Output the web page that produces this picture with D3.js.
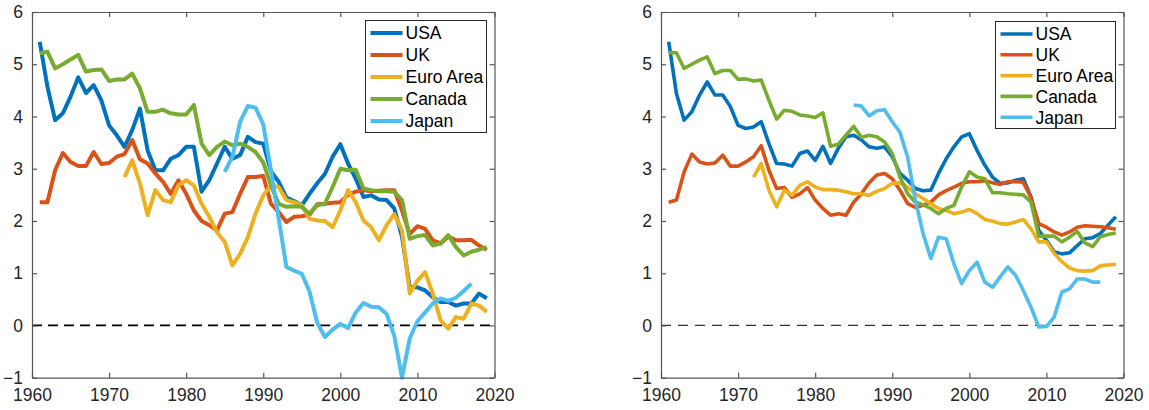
<!DOCTYPE html>
<meta charset="utf-8">
<style>
body { margin: 0; background: #fff; }
svg { font-family: "Liberation Sans", Arial, Helvetica, sans-serif; }
.axis text { font-size: 17.5px; fill: #262626; }
.axis path, .axis line { stroke: #555; stroke-width: 1.2; }
.legend text { font-size: 17.5px; fill: #000; }
</style>
<svg width="1149" height="410"></svg>
<script src="https://d3js.org/d3.v7.min.js"></script>
<script>
var names = ["USA", "UK", "Euro Area", "Canada", "Japan"];
var colors = ["#0072BD", "#D95319", "#EDB120", "#77AC30", "#4DBEEE"];
var startYears = [1961, 1961, 1972, 1961, 1985];
var xTicks = [1960, 1970, 1980, 1990, 2000, 2010, 2020];
var yTicks = [-1, 0, 1, 2, 3, 4, 5, 6];

// left panel
var usaL = [5.43, 4.57, 3.93, 4.06, 4.38, 4.75, 4.45, 4.60, 4.31, 3.83,
            3.64, 3.42, 3.74, 4.15, 3.35, 2.97, 2.97, 3.19, 3.26, 3.42,
            3.42, 2.56, 2.78, 3.10, 3.42, 3.19, 3.26, 3.61, 3.51, 3.48,
            2.95, 2.75, 2.45, 2.38, 2.30, 2.52, 2.72, 2.90, 3.23, 3.47,
            3.10, 2.81, 2.46, 2.49, 2.41, 2.40, 2.24, 1.70, 0.73, 0.73,
            0.67, 0.54, 0.45, 0.45, 0.38, 0.42, 0.42, 0.61, 0.52];
var ukL = [2.36, 2.36, 2.97, 3.30, 3.13, 3.05, 3.05, 3.32, 3.09, 3.11,
           3.23, 3.28, 3.55, 3.18, 3.10, 2.91, 2.75, 2.52, 2.78, 2.52,
           2.20, 2.00, 1.92, 1.82, 2.14, 2.17, 2.52, 2.84, 2.84, 2.86,
           2.33, 2.17, 1.98, 2.08, 2.09, 2.12, 2.32, 2.33, 2.35, 2.36,
           2.50, 2.56, 2.59, 2.57, 2.58, 2.59, 2.59, 2.20, 1.75, 1.90,
           1.85, 1.63, 1.57, 1.70, 1.63, 1.63, 1.64, 1.53, 1.45];
var euroL = [2.84, 3.16, 2.72, 2.11, 2.59, 2.40, 2.36, 2.68, 2.78,
             2.68, 2.33, 2.08, 1.78, 1.60, 1.15, 1.37, 1.69, 2.14, 2.49,
             2.68, 2.65, 2.40, 2.36, 2.30, 2.04, 2.01, 2.00, 1.88, 2.20,
             2.59, 2.36, 2.01, 1.88, 1.63, 1.92, 2.13, 1.82, 0.61, 0.86,
             1.02, 0.61, 0.10, -0.06, 0.16, 0.13, 0.42, 0.38, 0.26];
var canadaL = [5.21, 5.24, 4.92, 5.00, 5.09, 5.18, 4.86, 4.89, 4.90, 4.68,
               4.71, 4.71, 4.82, 4.54, 4.09, 4.09, 4.13, 4.06, 4.04, 4.04,
               4.22, 3.48, 3.26, 3.42, 3.52, 3.45, 3.48, 3.42, 3.32, 3.12,
               2.68, 2.33, 2.27, 2.28, 2.27, 2.14, 2.30, 2.33, 2.65, 3.00,
               2.97, 2.98, 2.62, 2.59, 2.57, 2.57, 2.56, 2.40, 1.66, 1.71,
               1.73, 1.53, 1.57, 1.73, 1.50, 1.34, 1.41, 1.45, 1.50];
var japanL = [2.94, 3.23, 3.90, 4.20, 4.17, 3.85,
              2.97, 2.05, 1.12, 1.05, 0.99, 0.65, 0.05, -0.22, -0.08, 0.03,
              -0.05, 0.25, 0.43, 0.36, 0.35, 0.22, -0.20, -1.00, -0.25, 0.08,
              0.25, 0.42, 0.52, 0.47, 0.53, 0.66, 0.80];

// right panel
var usaR = [5.43, 4.44, 3.93, 4.09, 4.41, 4.66, 4.41, 4.41, 4.19, 3.83,
            3.77, 3.80, 3.90, 3.48, 3.10, 3.09, 3.05, 3.29, 3.34, 3.16,
            3.43, 3.10, 3.39, 3.61, 3.64, 3.55, 3.42, 3.39, 3.42, 3.23,
            2.91, 2.78, 2.62, 2.58, 2.59, 2.91, 3.19, 3.42, 3.61, 3.67,
            3.35, 3.07, 2.84, 2.72, 2.73, 2.78, 2.81, 2.46, 1.82, 1.63,
            1.41, 1.37, 1.39, 1.53, 1.66, 1.68, 1.76, 1.92, 2.08];
var ukR = [2.36, 2.40, 2.94, 3.28, 3.13, 3.09, 3.11, 3.26, 3.05, 3.05,
           3.13, 3.23, 3.44, 2.97, 2.62, 2.64, 2.45, 2.52, 2.64, 2.40,
           2.24, 2.11, 2.14, 2.11, 2.36, 2.52, 2.73, 2.88, 2.91, 2.81,
           2.59, 2.33, 2.26, 2.30, 2.36, 2.50, 2.58, 2.65, 2.72, 2.75,
           2.75, 2.77, 2.73, 2.70, 2.75, 2.75, 2.74, 2.45, 1.95, 1.88,
           1.79, 1.73, 1.79, 1.88, 1.91, 1.90, 1.89, 1.87, 1.84];
var euroR = [2.84, 3.10, 2.59, 2.27, 2.59, 2.49, 2.68, 2.75, 2.65,
             2.60, 2.60, 2.59, 2.56, 2.52, 2.52, 2.49, 2.57, 2.62, 2.72,
             2.73, 2.65, 2.52, 2.43, 2.33, 2.24, 2.20, 2.14, 2.17, 2.22,
             2.14, 2.03, 2.00, 1.95, 1.94, 1.98, 2.03, 1.85, 1.60, 1.60,
             1.38, 1.22, 1.10, 1.05, 1.04, 1.05, 1.14, 1.16, 1.17];
var canadaR = [5.22, 5.22, 4.92, 5.00, 5.08, 5.14, 4.82, 4.88, 4.88, 4.71,
               4.72, 4.68, 4.70, 4.31, 3.95, 4.12, 4.10, 4.03, 4.01, 3.98,
               4.07, 3.43, 3.47, 3.64, 3.81, 3.60, 3.64, 3.61, 3.51, 3.29,
               2.84, 2.52, 2.36, 2.31, 2.24, 2.14, 2.24, 2.30, 2.65, 2.94,
               2.84, 2.81, 2.54, 2.54, 2.52, 2.51, 2.50, 2.36, 1.71, 1.71,
               1.71, 1.60, 1.69, 1.80, 1.58, 1.51, 1.70, 1.74, 1.77];
var japanR = [4.22, 4.20, 4.01, 4.11, 4.13, 3.90,
              3.70, 3.22, 2.40, 1.76, 1.28, 1.69, 1.66, 1.18, 0.80, 1.05,
              1.21, 0.83, 0.73, 0.93, 1.12, 0.96, 0.67, 0.35, -0.03, -0.02,
              0.16, 0.64, 0.70, 0.89, 0.89, 0.83, 0.83];

var svg = d3.select("svg");

function drawPanel(left, right, series, opt) {
  var x = d3.scaleLinear().domain([1960, 2020]).range([left, right]);
  var y = d3.scaleLinear().domain([-1, 6]).range([377.7, 12]);
  var g = svg.append("g");

  // dashed zero line
  g.append("line")
      .attr("x1", x(1960)).attr("x2", x(2020))
      .attr("y1", y(0)).attr("y2", y(0))
      .attr("stroke", opt.zeroColor)
      .attr("stroke-width", opt.zeroWidth)
      .attr("stroke-dasharray", opt.zeroDash);

  var line = d3.line()
      .x(function(d) { return x(d[0]); })
      .y(function(d) { return y(d[1]); });

  series.forEach(function(vals, i) {
    var pts = vals.map(function(v, j) { return [startYears[i] + j, v]; });
    g.append("path")
        .datum(pts)
        .attr("fill", "none")
        .attr("stroke", colors[i])
        .attr("stroke-width", opt.lw)
        .attr("stroke-linejoin", "round")
        .attr("d", line);
  });

  // axes, box with inward ticks
  g.append("g").attr("class", "axis")
      .attr("transform", "translate(0," + y(-1) + ")")
      .call(d3.axisBottom(x).tickValues(xTicks).tickFormat(d3.format("d"))
            .tickSize(-5).tickSizeOuter(0).tickPadding(11));
  g.append("g").attr("class", "axis")
      .attr("transform", "translate(0," + y(6) + ")")
      .call(d3.axisTop(x).tickValues(xTicks).tickFormat("")
            .tickSize(-5).tickSizeOuter(0));
  g.append("g").attr("class", "axis")
      .attr("transform", "translate(" + x(1960) + ",0)")
      .call(d3.axisLeft(y).tickValues(yTicks).tickFormat(d3.format("d"))
            .tickSize(-5).tickSizeOuter(0).tickPadding(9));
  g.append("g").attr("class", "axis")
      .attr("transform", "translate(" + x(2020) + ",0)")
      .call(d3.axisRight(y).tickValues(yTicks).tickFormat("")
            .tickSize(-5).tickSizeOuter(0));

  // legend
  var lg = g.append("g").attr("class", "legend");
  lg.append("rect")
      .attr("x", opt.legX).attr("y", opt.legY)
      .attr("width", opt.legW).attr("height", opt.legH)
      .attr("fill", "#fff").attr("stroke", "#262626").attr("stroke-width", 1);
  names.forEach(function(n, i) {
    var yy = opt.legY0 + i * opt.legStep;
    lg.append("line")
        .attr("x1", opt.legX + 5).attr("x2", opt.legX + 37)
        .attr("y1", yy).attr("y2", yy)
        .attr("stroke", colors[i]).attr("stroke-width", opt.lw);
    lg.append("text")
        .attr("x", opt.legX + 40).attr("y", yy).attr("dy", "0.36em")
        .text(n);
  });
}

drawPanel(32, 494.5, [usaL, ukL, euroL, canadaL, japanL], {
  lw: 4, zeroColor: "#000", zeroWidth: 1.7, zeroDash: "10,6",
  legX: 365.5, legY: 20.5, legW: 121, legH: 112, legY0: 33, legStep: 22
});
drawPanel(661, 1123.5, [usaR, ukR, euroR, canadaR, japanR], {
  lw: 3.6, zeroColor: "#333", zeroWidth: 1.2, zeroDash: "10,7",
  legX: 995.5, legY: 21.5, legW: 120, legH: 107, legY0: 34, legStep: 20.8
});
</script>
